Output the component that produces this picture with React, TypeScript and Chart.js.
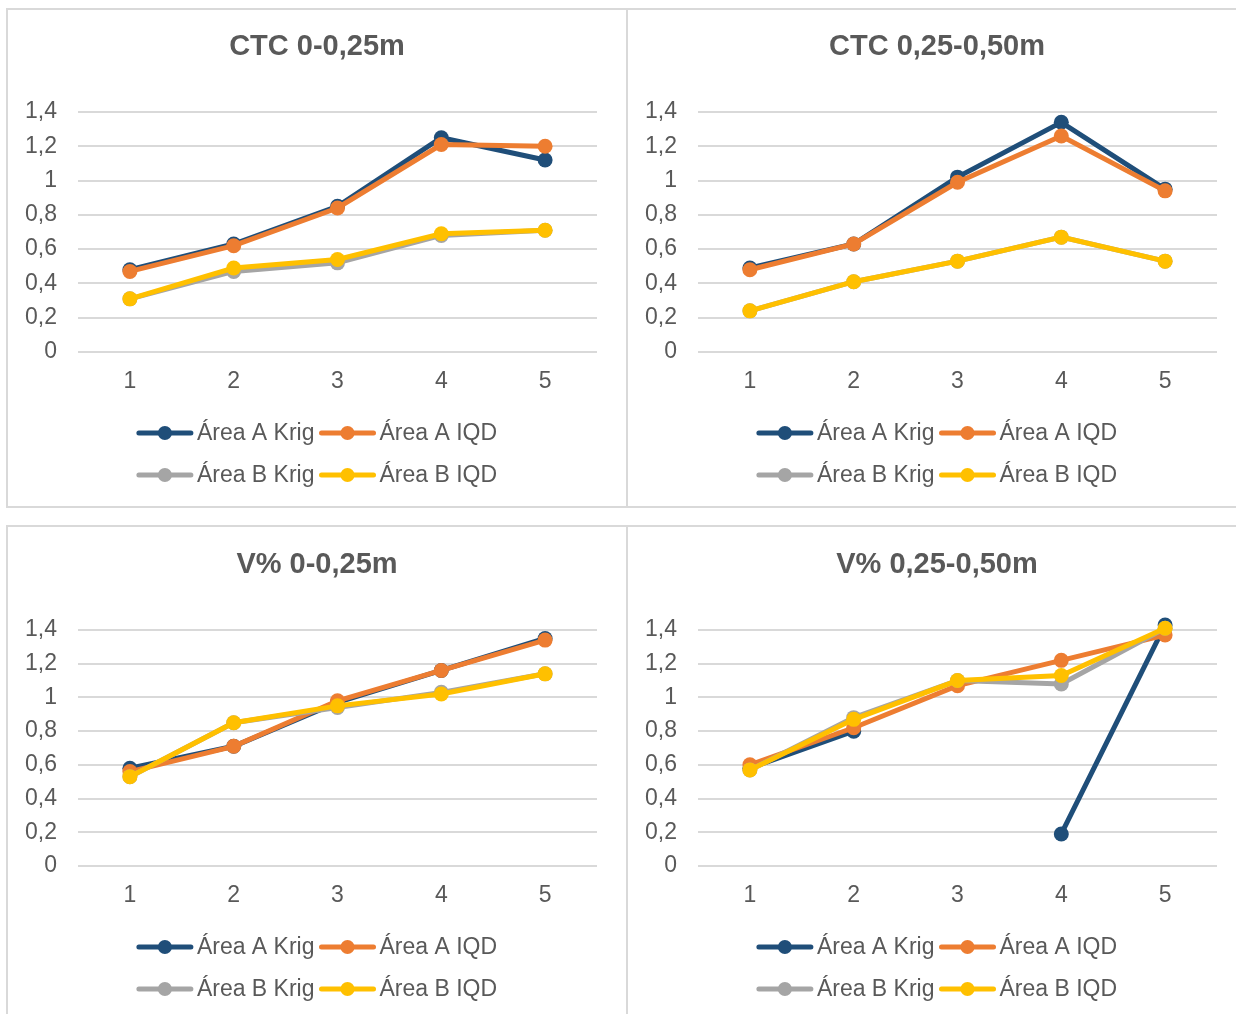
import React, { useEffect, useRef } from "react";
import { Chart, registerables } from "chart.js";

Chart.register(...registerables);

const FONT = '"Liberation Sans", Arial, sans-serif';
const TEXT_COLOR = "#595959";
const GRID_COLOR = "#D9D9D9";

const categories = ["1", "2", "3", "4", "5"];
const seriesNames = ["Área A Krig", "Área A IQD", "Área B Krig", "Área B IQD"];
const seriesColors = ["#1F4E79", "#ED7D31", "#A5A5A5", "#FFC000"];
const yMin = 0;
const yMax = 1.4;
const yStep = 0.2;

const chartTitles = ["CTC 0-0,25m", "CTC 0,25-0,50m", "V% 0-0,25m", "V% 0,25-0,50m"];

// CTC 0-0,25m
const ctc1AKrig = [0.48, 0.63, 0.85, 1.25, 1.12];
const ctc1AIQD = [0.47, 0.62, 0.84, 1.21, 1.2];
const ctc1BKrig = [0.31, 0.47, 0.52, 0.68, 0.71];
const ctc1BIQD = [0.31, 0.49, 0.54, 0.69, 0.71];

// CTC 0,25-0,50m
const ctc2AKrig = [0.49, 0.63, 1.02, 1.34, 0.95];
const ctc2AIQD = [0.48, 0.63, 0.99, 1.26, 0.94];
const ctc2BKrig = [0.24, 0.41, 0.53, 0.67, 0.53];
const ctc2BIQD = [0.24, 0.41, 0.53, 0.67, 0.53];

// V% 0-0,25m
const v1AKrig = [0.58, 0.71, 0.97, 1.16, 1.35];
const v1AIQD = [0.56, 0.71, 0.98, 1.16, 1.34];
const v1BKrig = [0.53, 0.85, 0.94, 1.03, 1.14];
const v1BIQD = [0.53, 0.85, 0.95, 1.02, 1.14];

// V% 0,25-0,50m (Área A Krig has no value at 3)
const v2AKrig = [0.58, 0.8, null, 0.19, 1.43];
const v2AIQD = [0.6, 0.82, 1.07, 1.22, 1.37];
const v2BKrig = [0.57, 0.88, 1.1, 1.08, 1.41];
const v2BIQD = [0.57, 0.87, 1.1, 1.13, 1.41];

const panelSeries = [
  [ctc1AKrig, ctc1AIQD, ctc1BKrig, ctc1BIQD],
  [ctc2AKrig, ctc2AIQD, ctc2BKrig, ctc2BIQD],
  [v1AKrig, v1AIQD, v1BKrig, v1BIQD],
  [v2AKrig, v2AIQD, v2BKrig, v2BIQD],
];

const panelLayout = [
  { left: 6, top: 8, titleY: 37, areaTop: 102, bottomPad: 114 },
  { left: 626, top: 8, titleY: 37, areaTop: 102, bottomPad: 114 },
  { left: 6, top: 525, titleY: 38, areaTop: 103, bottomPad: 117 },
  { left: 626, top: 525, titleY: 38, areaTop: 103, bottomPad: 117 },
];

const CANVAS_W = 618;
const CANVAS_H = 496;

const decorPlugin = {
  id: "decor",
  afterDraw(chart: any) {
    const ctx = chart.ctx as CanvasRenderingContext2D;
    const area = chart.chartArea;
    const opts = chart.options.plugins.decor || {};
    ctx.save();
    // title
    ctx.font = `bold 29px ${FONT}`;
    ctx.fillStyle = TEXT_COLOR;
    ctx.textAlign = "center";
    ctx.textBaseline = "middle";
    ctx.fillText(opts.title || "", chart.width / 2, opts.titleY || 37);

    // legend
    ctx.font = `23px ${FONT}`;
    const lineLen = 56;
    const gap = 4;
    const colGap = 5;
    const items = chart.data.datasets.map((ds: any) => ({ label: ds.label, color: ds.borderColor }));
    const widths = items.map((it: any) => lineLen + gap + ctx.measureText(it.label).width);
    const col1 = Math.max(widths[0], widths[2]);
    const col2 = Math.max(widths[1], widths[3]);
    const total = col1 + colGap + col2;
    const x0 = chart.width / 2 - total / 2;
    const rowY = [area.bottom + 81, area.bottom + 123];
    items.forEach((it: any, i: number) => {
      const row = Math.floor(i / 2);
      const col = i % 2;
      const x = col === 0 ? x0 : x0 + col1 + colGap;
      const y = rowY[row];
      ctx.strokeStyle = it.color;
      ctx.lineWidth = 5;
      ctx.lineCap = "round";
      ctx.beginPath();
      ctx.moveTo(x + 2, y);
      ctx.lineTo(x + lineLen - 2, y);
      ctx.stroke();
      ctx.fillStyle = it.color;
      ctx.beginPath();
      ctx.arc(x + lineLen / 2, y, 7, 0, Math.PI * 2);
      ctx.fill();
      ctx.fillStyle = TEXT_COLOR;
      ctx.textBaseline = "middle";
      ctx.textAlign = "left";
      ctx.fillText(it.label, x + lineLen + gap, y + 1);
    });
    ctx.restore();
  },
};

function Panel({ index }: { index: number }) {
  const ref = useRef<HTMLCanvasElement>(null);
  const lay = panelLayout[index];
  useEffect(() => {
    const series = panelSeries[index];
    const chart = new Chart(ref.current as HTMLCanvasElement, {
      type: "line",
      data: {
        labels: categories,
        datasets: series.map((d, i) => ({
          label: seriesNames[i],
          data: d,
          borderColor: seriesColors[i],
          backgroundColor: seriesColors[i],
          pointBackgroundColor: seriesColors[i],
          pointBorderColor: seriesColors[i],
          borderWidth: 5,
          pointRadius: 7.5,
          pointBorderWidth: 0,
          tension: 0,
          spanGaps: false,
          clip: false as any,
          order: 4 - i,
        })),
      },
      options: {
        responsive: false,
        animation: false,
        events: [],
        layout: { padding: { left: 0, right: 29, top: lay.areaTop, bottom: lay.bottomPad } },
        plugins: {
          legend: { display: false },
          tooltip: { enabled: false },
          title: { display: false },
          decor: { title: chartTitles[index], titleY: lay.titleY },
        },
        scales: {
          x: {
            offset: true,
            grid: { display: false, drawTicks: false },
            border: { display: false },
            ticks: { color: TEXT_COLOR, font: { family: FONT, size: 23 }, padding: 16 },
            afterFit: (s: any) => {
              s.height = 40;
            },
          },
          y: {
            min: yMin,
            max: yMax,
            grid: { color: GRID_COLOR, lineWidth: 2, drawTicks: false },
            border: { display: false },
            ticks: {
              stepSize: yStep,
              color: TEXT_COLOR,
              font: { family: FONT, size: 23 },
              padding: 21,
              callback: (v: any) => String(Math.round(Number(v) * 10) / 10).replace(".", ","),
            },
            afterFit: (s: any) => {
              s.width = 70;
            },
          },
        },
      },
      plugins: [decorPlugin],
    } as any);
    return () => chart.destroy();
  }, [index]);
  return (
    <div
      style={{
        position: "absolute",
        left: lay.left,
        top: lay.top,
        width: CANVAS_W,
        height: CANVAS_H,
        border: `2px solid ${GRID_COLOR}`,
        background: "#fff",
      }}
    >
      <canvas ref={ref} width={CANVAS_W} height={CANVAS_H} style={{ display: "block" }} />
    </div>
  );
}

export default function App() {
  return (
    <div
      style={{
        position: "absolute",
        left: 0,
        top: 0,
        width: 1236,
        height: 1014,
        overflow: "hidden",
        background: "#fff",
      }}
    >
      {[0, 1, 2, 3].map((i) => (
        <Panel key={i} index={i} />
      ))}
    </div>
  );
}
